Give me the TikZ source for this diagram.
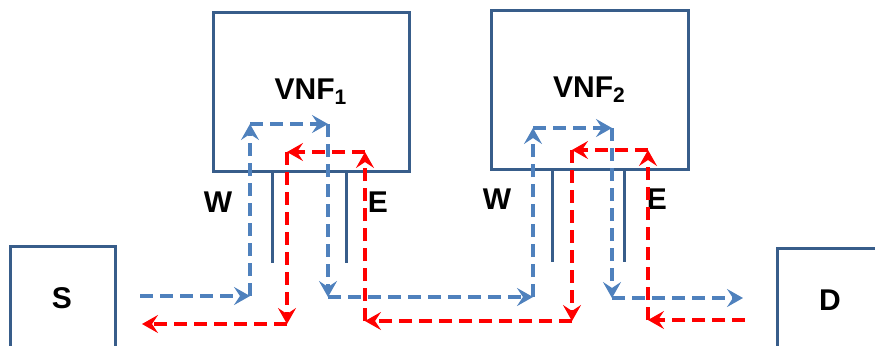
\documentclass[tikz,border=0pt]{standalone}
\usepackage{fontspec}
\setmainfont{Liberation Sans}
\usetikzlibrary{arrows.meta}
\definecolor{framecol}{RGB}{56,93,138}
\definecolor{fwdcol}{RGB}{79,129,189}
\definecolor{revcol}{RGB}{255,0,0}

\begin{document}
\begin{tikzpicture}[x=0.5pt,y=-0.5pt,
  box/.style={draw=framecol,line width=1.5pt,inner sep=0pt},
  tag/.style={font=\fontsize{15}{18}\selectfont\bfseries},
  leg/.style={draw=framecol,line width=1.5pt},
  fwd/.style={draw=fwdcol,line width=1.6pt,dash pattern=on 6.5pt off 3.5pt,
    -{Stealth[length=8pt,width=9pt,inset=3pt]}},
  rev/.style={fwd,draw=revcol}]
  \useasboundingbox (0,0) rectangle (875,345);

  \node[box,tag,minimum width=98pt,minimum height=79.5pt] (vnf1) at (311,91.5) {VNF\textsubscript{1}};
  \node[box,tag,minimum width=98.5pt,minimum height=79.5pt] (vnf2) at (589.5,89.5) {VNF\textsubscript{2}};
  \node[box,minimum width=52.5pt,minimum height=77pt] (S) at (62.5,323) {};
  \node[box,minimum width=52.5pt,minimum height=76pt] (D) at (829.5,324) {};
  \node[tag] (Slbl) at (62,298) {S};
  \node[tag] (Dlbl) at (830,300) {D};

  \draw[leg] (vnf1.south -| 272,0) -- (272,263);
  \draw[leg] (vnf1.south -| 346,0) -- (346,263);
  \draw[leg] (vnf2.south -| 552,0) -- (552,262);
  \draw[leg] (vnf2.south -| 624,0) -- (624,262);

  \node[tag] (w1) at (218,202) {W};
  \node[tag] (e1) at (378,202) {E};
  \node[tag] (w2) at (497,199) {W};
  \node[tag] (e2) at (657,199) {E};

  \foreach \n/\x/\y in {0/140/296, 1/250/296, 2/250/124, 3/328/124, 4/328/297,
      5/533/297, 6/533/128, 7/612/128, 8/612/298, 9/743/298}
    \coordinate (f\n) at (\x,\y);
  \foreach \n/\x/\y in {0/745/320, 1/648/320, 2/648/150, 3/572/150, 4/572/321,
      5/365/321, 6/365/152, 7/287/152, 8/287/324, 9/142/324}
    \coordinate (r\n) at (\x,\y);

  \foreach \a [count=\b] in {0,...,8} {
    \draw[fwd] (f\a) -- (f\b);
    \draw[rev] (r\a) -- (r\b);
  }
\end{tikzpicture}
\end{document}
